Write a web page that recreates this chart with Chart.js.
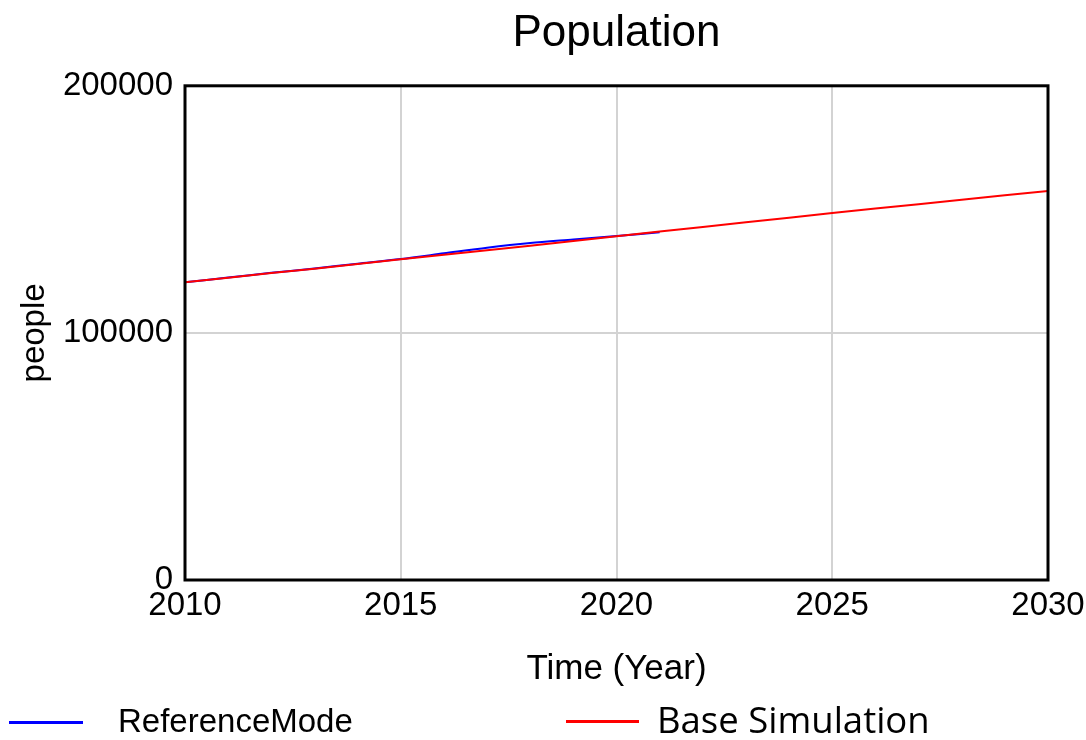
<!DOCTYPE html>
<html>
<head>
<meta charset="utf-8">
<script src="https://cdn.jsdelivr.net/npm/chart.js@4.4.0/dist/chart.umd.min.js"></script>
<style>
    html, body { margin: 0; padding: 0; background: #fff; }
    #wrap { position: relative; width: 1086px; height: 740px; }
    #legend { position: absolute; left: 0; top: 0; width: 1086px; height: 740px; pointer-events: none; }
    .lg-line { position: absolute; height: 3px; }
    .lg-text { position: absolute; color: #000; white-space: nowrap; line-height: 1; }
</style>
</head>
<body>
<div id="wrap">
    <canvas id="popChart" width="1086" height="740"></canvas>
    <div id="legend"></div>
</div>
<script>
// Data
const years = [2010, 2011, 2012, 2013, 2014, 2015, 2016, 2017, 2018, 2019, 2020, 2021,
               2022, 2023, 2024, 2025, 2026, 2027, 2028, 2029, 2030];
const baseSimulation = [120500, 122300, 124200, 126000, 127900, 129800, 131600, 133400, 135300, 137200, 139100, 141000,
                        142900, 144800, 146600, 148500, 150300, 152100, 153900, 155700, 157400];
const refYears = [2010, 2011, 2012, 2013, 2014, 2015, 2016, 2017, 2018, 2019, 2020, 2021];
const referenceMode = [120500, 122400, 124300, 126100, 128000, 129900, 132200, 134500, 136400, 137800, 139200, 140700];
const xTicks = [2010, 2015, 2020, 2025, 2030];
const yTicks = [0, 100000, 200000];

const COLORS = {
    ref: '#0000ff',
    base: '#ff0000',
    grid: '#d3d3d3',
    text: '#000'
};
const FONT = "'Liberation Sans', Arial, sans-serif";

// black frame round the plot area
const frameBox = {
    id: 'frameBox',
    afterDatasetsDraw(chart) {
        const a = chart.chartArea;
        const c = chart.ctx;
        c.save();
        c.strokeStyle = '#000';
        c.lineWidth = 3;
        c.strokeRect(a.left, a.top, a.right - a.left, a.bottom - a.top);
        c.restore();
    }
};

const chart = new Chart(document.getElementById('popChart'), {
    type: 'line',
    data: {
        datasets: [
            {
                label: 'Base Simulation',
                data: years.map((x, i) => ({ x, y: baseSimulation[i] })),
                borderColor: COLORS.base,
                backgroundColor: COLORS.base,
                borderWidth: 2,
                pointRadius: 0,
                tension: 0
            },
            {
                label: 'ReferenceMode',
                data: refYears.map((x, i) => ({ x, y: referenceMode[i] })),
                borderColor: COLORS.ref,
                backgroundColor: COLORS.ref,
                borderWidth: 2,
                pointRadius: 0,
                tension: 0.3
            }
        ]
    },
    options: {
        responsive: false,
        animation: false,
        layout: { padding: { left: 0, right: 38, top: 0, bottom: 50 } },
        plugins: {
            legend: { display: false },
            tooltip: { enabled: false },
            title: {
                display: true,
                fullSize: false,
                text: 'Population',
                color: COLORS.text,
                font: { family: FONT, size: 44, weight: 'normal' },
                padding: { top: 7, bottom: 26 }
            }
        },
        scales: {
            x: {
                type: 'linear',
                min: 2010,
                max: 2030,
                afterBuildTicks: s => { s.ticks = xTicks.map(v => ({ value: v })); },
                afterFit: s => { s.height = 110; s.paddingRight = 0; },
                ticks: {
                    color: COLORS.text,
                    font: { family: FONT, size: 33 },
                    padding: 6,
                    maxRotation: 0,
                    callback: v => String(v)
                },
                grid: { color: COLORS.grid, lineWidth: 2, drawTicks: false },
                border: { display: false },
                title: {
                    display: true,
                    text: 'Time (Year)',
                    color: COLORS.text,
                    font: { family: FONT, size: 35 },
                    padding: { top: 0, bottom: 0 }
                }
            },
            y: {
                type: 'linear',
                min: 0,
                max: 200000,
                afterBuildTicks: s => { s.ticks = yTicks.map(v => ({ value: v })); },
                afterFit: s => { s.width = 185; s.paddingTop = 0; s.paddingBottom = 0; },
                ticks: {
                    color: COLORS.text,
                    font: { family: FONT, size: 33 },
                    padding: 12,
                    callback: v => String(v)
                },
                grid: { color: COLORS.grid, lineWidth: 2, drawTicks: false },
                border: { display: false },
                title: {
                    display: true,
                    text: 'people',
                    color: COLORS.text,
                    font: { family: FONT, size: 33 },
                    padding: { top: 15, bottom: 0 }
                }
            }
        }
    },
    plugins: [frameBox]
});

// legend laid out like the reference, built from the datasets
const legendPos = {
    'ReferenceMode': { lineX: 9, lineW: 74, textX: 118, y: 722, font: FONT, size: 33 },
    'Base Simulation': { lineX: 566, lineW: 73, textX: 657, y: 721, font: "'Open Sans', 'Noto Sans', sans-serif", size: 36.5 }
};
const legendEl = document.getElementById('legend');
chart.data.datasets.forEach(ds => {
    const p = legendPos[ds.label];
    const line = document.createElement('div');
    line.className = 'lg-line';
    line.style.left = p.lineX + 'px';
    line.style.width = p.lineW + 'px';
    line.style.top = (p.y - 1) + 'px';
    line.style.background = ds.borderColor;
    legendEl.appendChild(line);
    const txt = document.createElement('div');
    txt.className = 'lg-text';
    txt.textContent = ds.label;
    txt.style.left = p.textX + 'px';
    txt.style.top = (p.y - p.size * 0.55) + 'px';
    txt.style.fontFamily = p.font;
    txt.style.fontSize = p.size + 'px';
    legendEl.appendChild(txt);
});
</script>
</body>
</html>
